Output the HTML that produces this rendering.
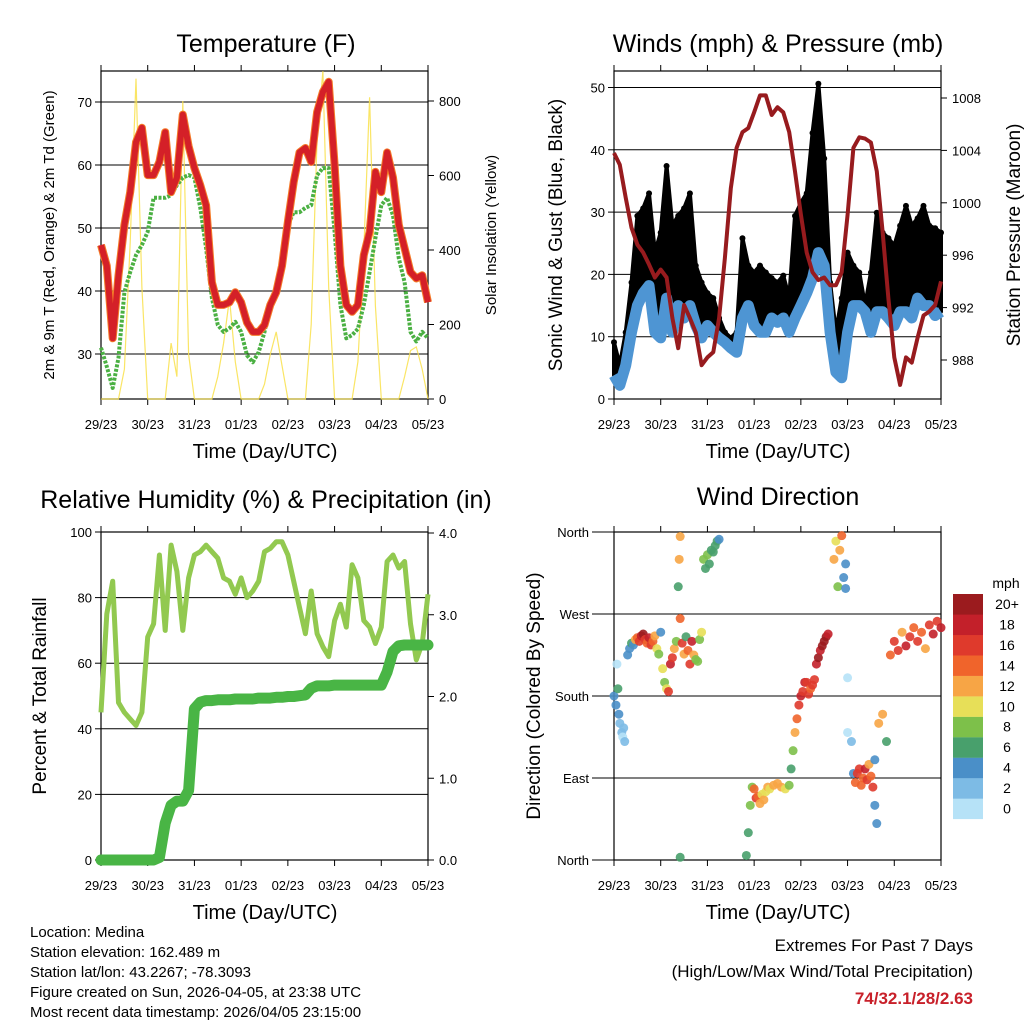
<!DOCTYPE html>
<html><head><meta charset="utf-8"><style>
body{margin:0;background:#fff}
svg{display:block;font-family:"Liberation Sans",Arial,sans-serif}
</style></head><body>
<svg id="c" width="1024" height="1024" viewBox="0 0 1024 1024">
<g font-size="25" text-anchor="middle" fill="#000">
<text x="266" y="52">Temperature (F)</text>
<text x="778" y="52">Winds (mph) &amp; Pressure (mb)</text>
<text x="266" y="508">Relative Humidity (%) &amp; Precipitation (in)</text>
<text x="778" y="505">Wind Direction</text>
</g>
<g font-size="20" text-anchor="middle">
<text x="265" y="458">Time (Day/UTC)</text>
<text x="778" y="458">Time (Day/UTC)</text>
<text x="265" y="919">Time (Day/UTC)</text>
<text x="778" y="919">Time (Day/UTC)</text>
</g>
<text transform="translate(54,235) rotate(-90)" font-size="15" text-anchor="middle">2m &amp; 9m T (Red, Orange) &amp; 2m Td (Green)</text>
<text transform="translate(496,235) rotate(-90)" font-size="15" text-anchor="middle">Solar Insolation (Yellow)</text>
<text transform="translate(562,235) rotate(-90)" font-size="19" text-anchor="middle">Sonic Wind &amp; Gust (Blue, Black)</text>
<text transform="translate(1020,235) rotate(-90)" font-size="19" text-anchor="middle">Station Pressure (Maroon)</text>
<text transform="translate(46,696) rotate(-90)" font-size="19" text-anchor="middle">Percent &amp; Total Rainfall</text>
<text transform="translate(540,696) rotate(-90)" font-size="19" text-anchor="middle">Direction (Colored By Speed)</text>
<g font-size="15">
<text x="30" y="937">Location: Medina</text>
<text x="30" y="957">Station elevation: 162.489 m</text>
<text x="30" y="977">Station lat/lon: 43.2267; -78.3093</text>
<text x="30" y="997">Figure created on Sun, 2026-04-05, at 23:38 UTC</text>
<text x="30" y="1017">Most recent data timestamp: 2026/04/05 23:15:00</text>
</g>
<g text-anchor="end">
<text x="973" y="951" font-size="17">Extremes For Past 7 Days</text>
<text x="973" y="977" font-size="17">(High/Low/Max Wind/Total Precipitation)</text>
<text x="973" y="1004" font-size="17" font-weight="bold" fill="#c8202a">74/32.1/28/2.63</text>
</g>
</svg>
<script>
const hours=[0,3,6,9,12,15,18,21,24,27,30,33,36,39,42,45,48,51,54,57,60,63,66,69,72,75,78,81,84,87,90,93,96,99,102,105,108,111,114,117,120,123,126,129,132,135,138,141,144,147,150,153,156,159,162,165,168];
const dayLabels=["29/23","30/23","31/23","01/23","02/23","03/23","04/23","05/23"];
const tempF=[47.3,44,32.5,42.5,50.5,55.7,63.6,65.9,58.4,58.4,60.5,65.2,55.7,58,68,63,59.5,56.8,53.6,41.4,37.8,37.8,38.2,39.8,38.2,35,33.5,33.5,34.6,37.8,39.8,44,51,57.3,62,62.7,60.5,68.4,71.6,73.2,60,44,37.8,36.7,37.8,45.7,49.4,58.9,55.7,62,58,50.5,46.8,43,42,42.5,38.2];
const dewF=[31,28,24.6,29.4,39.8,43,45.7,47.3,49.4,54.8,54.8,54.8,55.2,56.8,58,58.4,58,53.2,46.8,38.9,34.6,33.5,34.1,35.1,33.5,29.8,28.7,30.3,33.5,37.8,39.8,44,50.5,52.5,52.5,53.2,53.6,58.4,59.5,59.5,49.4,37.8,32.5,33,34,37.8,43,48.4,53.6,54.8,52,45.2,41.4,33.5,32,33.5,32.5];
const solarW=[0,0,0,0,80,420,860,300,0,0,0,0,150,60,800,120,0,0,0,0,60,150,270,100,0,0,0,0,40,120,180,90,0,0,0,0,200,700,880,300,0,0,0,0,100,400,810,250,0,0,0,0,60,130,140,80,0];
const windMph=[3.8,2.2,5.4,10.7,15,17,18.2,10.7,9.8,16.2,10.7,15,13,15,11.8,9.8,11.8,10.7,9.8,9.1,8.2,7.5,13,15,11.8,10.7,10.7,13,12.3,13,10.7,13,15,17,19.4,23.5,21.4,10.7,4.3,3.4,10.7,15,15,14,10.7,14,14,13,11.8,14,14,13,16.2,15,15,13.4,14];
const gustMph=[9.1,5.4,10.7,18.7,29.4,30.6,33,23.5,26.7,37.4,27.8,29.4,30.6,33,21.4,18.7,17,16.2,13,10.7,9.8,10.7,25.8,21.4,20.3,21.4,20.3,19.4,18.7,19.8,16.2,29.4,31.5,33,42.7,50.6,38.6,18.7,10.7,16.2,23.5,21.4,20.3,15,20.3,29.9,26.7,25.8,24.6,27.8,31,27.8,29,31,27.8,27.4,26.7];
const pressMb=[1003.8,1002.9,1000.4,998.1,996.8,996.2,995.3,994.3,994.9,994.3,991.2,988.9,992.2,991.2,990.1,987.6,988.2,988.6,991.2,995.8,1001.1,1004.2,1005.4,1005.7,1006.9,1008.2,1008.2,1006.7,1007.3,1006.9,1005.4,1002.4,999.1,996.2,994.7,994.1,994.3,993.7,993.7,994.7,999.1,1004.2,1005,1004.9,1004.6,1002.4,997.8,992.7,988.2,986.1,988.2,987.8,989.7,991.4,991.7,992.2,994];
const rhPct=[45,75,85,48,45,43,41,45,68,72,93,70,96,88,70,86,93,94,96,94,92,86,85,81,86,80,82,85,94,95,97,97,93,85,77,69,82,69,65,62,73,78,71,90,86,73,71,66,71,91,93,89,91,72,61,66,81];
const rainIn=[0,0,0,0,0,0,0,0,0,0,0.03,0.45,0.67,0.72,0.72,0.85,1.85,1.93,1.95,1.95,1.96,1.96,1.96,1.97,1.97,1.97,1.97,1.98,1.98,1.98,1.99,1.99,2,2,2.01,2.02,2.1,2.13,2.13,2.13,2.14,2.14,2.14,2.14,2.14,2.14,2.14,2.14,2.14,2.3,2.55,2.62,2.63,2.63,2.63,2.63,2.63];
const dirHour=[0,1,2,2.5,3,4,4.5,5,5.5,1.5,7,8,9,10,11,12,13,14,15,16,17,18,19,20,21,22,23,24,25,26,27,28,29,30,31,32,33,33.5,34,34,34,35,36,37,38,39,40,41,42,43,44,45,46,47,48,49,50,51,52,53,54,68,69,70,71,72,73,74,75,76,77,78,79,80,82,84,86,88,90,91,92,93,94,95,96,97,98,99,100,101,102,103,104,105,106,107,108,109,110,113,114,115,116,117,118,119,119,120,120,122,123,124,125,126,127,128,129,130,131,132,133,134,134,135,136,138,140,142,144,146,148,150,152,154,156,158,160,162,164,166,168];
const dirDeg=[180,170,188,160,150,140,135,145,130,215,225,232,238,236,242,244,240,246,248,242,238,244,236,240,246,232,226,250,210,195,188,185,215,222,232,240,300,330,355,265,3,238,226,245,230,215,240,225,220,218,242,250,330,320,335,325,340,338,345,350,352,5,30,60,80,78,68,70,62,72,66,75,80,78,82,84,80,78,82,100,120,140,155,170,180,185,195,195,182,188,192,198,215,222,230,235,240,245,248,330,350,300,340,356,310,325,298,140,200,130,95,85,95,100,82,90,100,88,105,92,80,110,60,40,150,160,130,225,240,230,250,235,245,255,240,250,232,258,248,262,255,250,258];
const dirMph=[5,4,6,4,2,2,1,2,2,1,5,4,6,5,13,15,17,19,20,16,14,18,17,15,12,10,9,4,10,9,10,17,18,16,12,8,6,12,13,14,7,17,13,7,14,16,18,12,9,8,8,10,9,6,8,7,6,6,7,6,5,6,7,8,9,15,17,14,12,10,13,11,12,11,12,13,12,10,8,7,9,12,14,16,18,17,18,16,17,15,16,17,19,20,19,20,21,20,19,12,10,8,13,14,4,5,5,1,0,2,4,14,16,17,15,14,18,17,13,15,16,5,4,4,13,12,7,15,17,16,12,18,16,14,17,15,13,17,18,16,19,15,14];

const svg=document.getElementById('c');
const NS='http://www.w3.org/2000/svg';
function mk(tag,attrs,parent){const e=document.createElementNS(NS,tag);for(const k in attrs)e.setAttribute(k,attrs[k]);(parent||svg).appendChild(e);return e;}
function lin(d0,d1,r0,r1){return v=>r0+(v-d0)/(d1-d0)*(r1-r0);}
function pathOf(xs,ys){return xs.map((x,i)=>(i?'L':'M')+x.toFixed(1)+','+ys[i].toFixed(1)).join('');}

function frame(name,x0,x1,y0,y1,xs){
  const g=mk('g',{});
  
  
  const r=mk('rect',{x:x0,y:y0,width:x1-x0,height:y1-y0,fill:'none',stroke:'#000','stroke-width':1.2},g);
  
  
  dayLabels.forEach((lab,i)=>{
    const x=xs(i*24);
    mk('line',{x1:x,x2:x,y1:y1,y2:y1+6,stroke:'#000'},g);
    mk('line',{x1:x,x2:x,y1:y0,y2:y0-6,stroke:'#000'},g);
    const t=mk('text',{x:x,y:y1+30,'font-size':13,'text-anchor':'middle'},g);
    
    
    t.textContent=lab;
  });
  return g;
}
function yTicks(g,name,vals,ys,x0,x1,side,labels,grid){
  vals.forEach((v,i)=>{
    const y=ys(v);
    if(grid) mk('line',{x1:x0,x2:x1,y1:y,y2:y,stroke:'#000','stroke-width':1},g);
    const tx=side==='left'?x0:x1;
    mk('line',{x1:tx,x2:side==='left'?tx-6:tx+6,y1:y,y2:y,stroke:'#000'},g);
    const t=mk('text',{x:side==='left'?tx-9:tx+11,y:y+5,'font-size':13,'text-anchor':side==='left'?'end':'start'},g);
    
    
    t.textContent=labels[i];
  });
}

/* ---------- Temperature ---------- */
{
const X=lin(0,168,101,428), Y=lin(30,70,354,102), YS=lin(0,800,399,101);
const g=frame('temp',101,428,71,399,X);
yTicks(g,'temp-left',[30,40,50,60,70],Y,101,428,'left',['30','40','50','60','70'],true);
yTicks(g,'temp-right',[0,200,400,600,800],YS,101,428,'right',['0','200','400','600','800'],false);
const xs=hours.map(X);
const sol=mk('path',{d:pathOf(xs,solarW.map(YS)),fill:'none',stroke:'#f9e04a','stroke-width':1.2,opacity:0.85});


const dew=mk('path',{d:pathOf(xs,dewF.map(Y)),fill:'none',stroke:'#4bb043','stroke-width':4,'stroke-dasharray':'3 1.5','stroke-linejoin':'round'});


const t9=mk('path',{d:pathOf(xs,tempF.map(Y)),fill:'none',stroke:'#f47b28','stroke-width':8,'stroke-linejoin':'round'});


const t2=mk('path',{d:pathOf(xs,tempF.map(Y)),fill:'none',stroke:'#d42028','stroke-width':6,'stroke-linejoin':'round'});


}

/* ---------- Winds ---------- */
{
const X=lin(0,168,614,941), Y=lin(0,50,399,87.5), YP=lin(988,1008,360,98);
const g=frame('winds',614,941,71,399,X);
yTicks(g,'winds-left',[0,10,20,30,40,50],Y,614,941,'left',['0','10','20','30','40','50'],true);
yTicks(g,'winds-right',[988,992,996,1000,1004,1008],YP,614,941,'right',['988','992','996','1000','1004','1008'],false);
const xs=hours.map(X);
const gy=gustMph.map(Y), wy=windMph.map(Y);
const area=mk('path',{d:pathOf(xs,gy)+pathOf(xs.slice().reverse(),wy.slice().reverse()).replace('M','L')+'Z',fill:'#000',stroke:'#000','stroke-width':4,'stroke-linejoin':'round'});


gustMph.forEach((v,i)=>{
  const c=mk('circle',{cx:xs[i],cy:gy[i],r:3,fill:'#000'});
  
  
});
const wl=mk('path',{d:pathOf(xs,wy),fill:'none',stroke:'#4e95d3','stroke-width':11,'stroke-linejoin':'round'});


const pl=mk('path',{d:pathOf(xs,pressMb.map(YP)),fill:'none',stroke:'#971b1e','stroke-width':4,'stroke-linejoin':'round'});


}

/* ---------- RH & Precip ---------- */
{
const X=lin(0,168,101,428), Y=lin(0,100,860,532), YR=lin(0,4,860,533);
const g=frame('rh',101,428,532,860,X);
yTicks(g,'rh-left',[0,20,40,60,80,100],Y,101,428,'left',['0','20','40','60','80','100'],true);
yTicks(g,'rh-right',[0,1,2,3,4],YR,101,428,'right',['0.0','1.0','2.0','3.0','4.0'],false);
const xs=hours.map(X);
const rl=mk('path',{d:pathOf(xs,rhPct.map(Y)),fill:'none',stroke:'#92c950','stroke-width':5,'stroke-linejoin':'round'});


const pr=mk('path',{d:pathOf(xs,rainIn.map(YR)),fill:'none',stroke:'#49b545','stroke-width':11,'stroke-linejoin':'round','stroke-linecap':'round'});


}

/* ---------- Wind direction ---------- */
{
const X=lin(0,168,614,941), Y=lin(0,360,860,532);
const g=frame('dir',614,941,532,860,X);
yTicks(g,'dir-left',[0,90,180,270,360],Y,598,941,'left',['North','East','South','West','North'],true);
const binColors=['#b6e2f7','#7dbbe5','#4a8fc8','#48a06c','#7dc04a','#e7df58','#f7a545','#f0642b','#df3a2c','#c3202a','#9b1b1e'];
const binLabels=['0','2','4','6','8','10','12','14','16','18','20+'];
function colorFor(s){return binColors[Math.min(10,Math.floor(s/2))];}
dirHour.forEach((h,i)=>{
  const c=mk('circle',{cx:X(h),cy:Y(dirDeg[i]),r:4.5,fill:colorFor(dirMph[i]),opacity:0.9});
  
  
});
const leg=mk('g',{});


const u=mk('text',{x:1006,y:588,'font-size':14,'text-anchor':'middle'},leg);


u.textContent='mph';
binColors.forEach((col,i)=>{
  const y=594+(10-i)*20.45;
  const r=mk('rect',{x:953,y:y,width:30,height:20.6,fill:col},leg);
  
  
  const t=mk('text',{x:1007,y:y+15,'font-size':14,'text-anchor':'middle'},leg);
  
  
  t.textContent=binLabels[i];
});
}
</script>
</body></html>
